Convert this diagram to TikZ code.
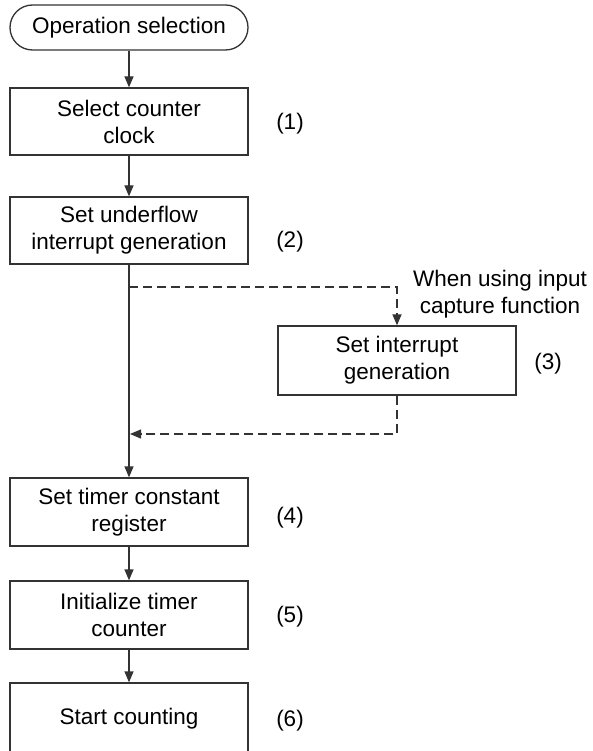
\documentclass[tikz,border=0pt]{standalone}
\usepackage{fontspec}
\setmainfont{Liberation Sans}
\usetikzlibrary{arrows.meta}
\begin{document}
\begin{tikzpicture}[x=1pt,y=-1pt,
  font=\fontsize{22.5}{27}\selectfont,
  ln/.style={draw=black!80,line width=1.3pt},
  box/.style={ln,fill=white,minimum width=238pt,align=center,inner sep=0pt},
  arr/.style={ln,-{Triangle[width=9pt,length=11pt]}},
  dsh/.style={dash pattern=on 9pt off 5pt},
  lbl/.style={inner sep=0pt}]
\useasboundingbox (0,0) rectangle (593,751);
\clip (0,0) rectangle (593,751);
% nodes
\node[box,minimum height=45pt,rounded corners=22.5pt] (s) at (129,27.5) {Operation selection};
\node[box,minimum height=67pt] (b1) at (129,121.5) {Select counter\\clock};
\node[box,minimum height=67pt] (b2) at (129,230.5) {Set underflow\\interrupt generation};
\node[box,minimum height=69pt] (b3) at (397,360.5) {Set interrupt\\generation};
\node[box,minimum height=68pt] (b4) at (129,512) {Set timer constant\\register};
\node[box,minimum height=68pt] (b5) at (129,615) {Initialize timer\\counter};
\node[box,minimum height=72pt] (b6) at (129,719) {Start counting};
% labels
\node[lbl] (l1) at (290,124) {(1)};
\node[lbl] (l2) at (290,242) {(2)};
\node[lbl] (l3) at (548,364) {(3)};
\node[lbl] (l4) at (290,518) {(4)};
\node[lbl] (l5) at (290,617) {(5)};
\node[lbl] (l6) at (290,721) {(6)};
\node[lbl,align=center] (cond) at (500,294) {When using input\\capture function};
% coordinates
\coordinate (d1) at (129,287);
\coordinate (d2) at (397,287);
\coordinate (r1) at (397,434);
\coordinate (r2) at (130,434);
% connectors
\draw[arr] (s) -- (b1);
\draw[arr] (b1) -- (b2);
\draw[arr] (b2) -- (b4);
\draw[arr] (b4) -- (b5);
\draw[arr] (b5) -- (b6);
\draw[arr,dsh] (d1) -- (d2) -- (b3);
\draw[arr,dsh] (b3) -- (r1) -- (r2);
\end{tikzpicture}
\end{document}
